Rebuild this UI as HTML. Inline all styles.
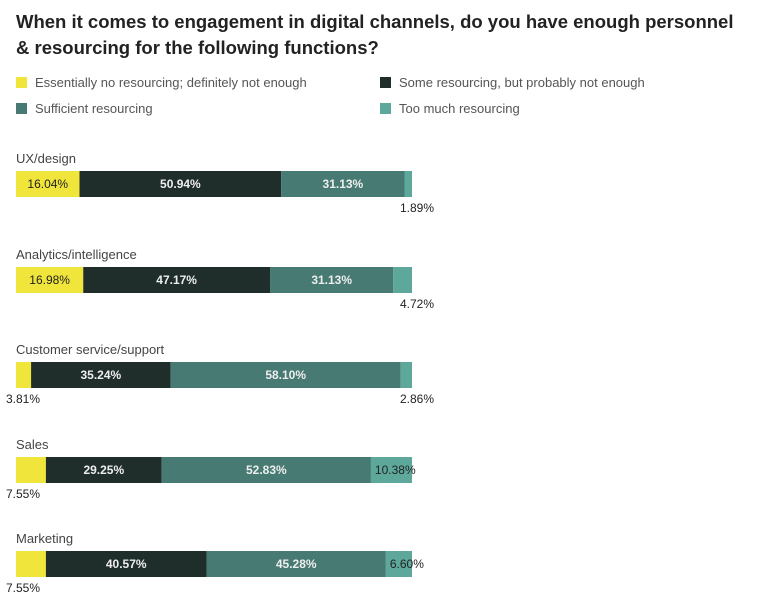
<!DOCTYPE html>
<html><head><meta charset="utf-8"><style>
body{margin:0;width:768px;height:611px;background:#fff;font-family:"Liberation Sans",sans-serif;position:relative;overflow:hidden}
.t{position:absolute;left:16px;top:9px;font-size:18.5px;font-weight:bold;color:#222;line-height:26px;width:745px}
.lg{position:absolute;font-size:13px;color:#555}
.lg i{position:absolute;left:0;top:2px;width:11px;height:11px}
.lg span{position:absolute;left:19px;top:0;white-space:nowrap}
</style></head><body>
<div class="t">When it comes to engagement in digital channels, do you have enough personnel<br>&amp; resourcing for the following functions?</div>
<div class="lg" style="left:16px;top:75px"><i style="background:#f0e53a"></i><span>Essentially no resourcing; definitely not enough</span></div>
<div class="lg" style="left:380px;top:75px"><i style="background:#1f2e2b"></i><span>Some resourcing, but probably not enough</span></div>
<div class="lg" style="left:16px;top:101px"><i style="background:#477a72"></i><span>Sufficient resourcing</span></div>
<div class="lg" style="left:380px;top:101px"><i style="background:#5ea89b"></i><span>Too much resourcing</span></div>
<svg id="c" width="768" height="611" style="position:absolute;left:0;top:0"></svg>
<script>
const categories=["UX/design","Analytics/intelligence","Customer service/support","Sales","Marketing"];
const noneVals=[16.04,16.98,3.81,7.55,7.55];
const someVals=[50.94,47.17,35.24,29.25,40.57];
const suffVals=[31.13,31.13,58.10,52.83,45.28];
const tooVals=[1.89,4.72,2.86,10.38,6.60];
const colors=["#f0e53a","#1f2e2b","#477a72","#5ea89b"];
const textCol=["#222","#eee","#eee","#222"];
const rowTops=[171,267,362,457,551];
const X0=16,W=396,BH=26;
const x=v=>X0+v/100*W;
const svg=document.getElementById('c');
const NS="http://www.w3.org/2000/svg";
function txt(tx,ty,s,anchor,fill,weight,size){
 const t=document.createElementNS(NS,'text');
 t.setAttribute('x',tx);t.setAttribute('y',ty);t.setAttribute('text-anchor',anchor);
 t.setAttribute('fill',fill);t.setAttribute('font-size',size||12);
 if(weight)t.setAttribute('font-weight',weight);
 t.setAttribute('font-family','Liberation Sans, sans-serif');
 t.textContent=s;svg.appendChild(t);return t;}
categories.forEach((c,i)=>{
 const y=rowTops[i];
 const lab=txt(16,y-8,c,'start','#444',null,13);
 
 
 const vals=[noneVals[i],someVals[i],suffVals[i],tooVals[i]];
 let cum=0;
 vals.forEach((v,k)=>{
  const r=document.createElementNS(NS,'rect');
  r.setAttribute('x',x(cum));r.setAttribute('y',y);
  r.setAttribute('width',x(cum+v)-x(cum));r.setAttribute('height',BH);
  r.setAttribute('fill',colors[k]);
  
  
  svg.appendChild(r);
  const s=v.toFixed(2)+'%';let t;
  if(v>=12){t=txt((x(cum)+x(cum+v))/2,y+17,s,'middle',textCol[k],k===0?null:'bold');}
  else if(k===3&&v>=5){t=txt(x(cum)+4,y+17,s,'start','#222');}
  else if(k===0){t=txt(6,y+41,s,'start','#222');}
  else{t=txt(x(100)+22,y+41,s,'end','#222');}
  
  
  cum+=v;
 });
});
</script>
</body></html>
